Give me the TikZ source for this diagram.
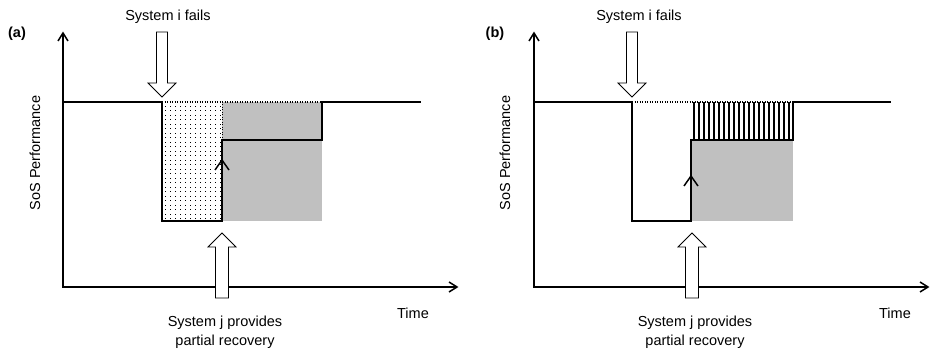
\documentclass[tikz,border=0pt]{standalone}
\usepackage{fontspec}
\setmainfont{Liberation Sans}
\usetikzlibrary{arrows.meta}
\definecolor{greyfill}{HTML}{C0C0C0}
\begin{document}
\begin{tikzpicture}[x=1pt,y=-1pt,
  txt/.style={inner sep=0pt,font=\fontsize{14.5}{19}\selectfont},
  axis/.style={line width=1.5pt},
  curve/.style={line width=1.5pt,line join=miter},
  chev/.style={line width=1.5pt,line join=miter},
  dotline/.style={line width=1.5pt,dash pattern=on 1.2pt off 1.3pt},
  hollow/.style={draw=black,fill=white,line width=0.8pt,line join=miter}]
\useasboundingbox (0,0) rectangle (930,350);

% ---------------- panel (a)
\node[txt,font=\fontsize{14.5}{19}\selectfont\bfseries] (la) at (17,34) {(a)};
\node[txt] (fa) at (168,17) {System i fails};
\node[txt,rotate=90] (ya) at (35,153) {SoS Performance};
\node[txt] (ta) at (413,313) {Time};
\node[txt,align=center] (ra) at (225,332) {System j provides\\partial recovery};

\fill[greyfill] (222,102) rectangle (322,221);
\foreach \x in {165,170,...,220}
  \foreach \y in {106,110.5,...,220}
    \fill (\x-0.45,\y-0.45) rectangle (\x+0.45,\y+0.45);
\draw[line width=1pt,dash pattern=on 1pt off 1.5pt] (222,102) -- (222,221);

\coordinate (oa) at (63,287);
\coordinate (ya1) at (63,33);
\coordinate (xa1) at (457,287);
\draw[axis] (ya1) -- (oa) -- (xa1);
\draw[chev] ([shift={(-5,8)}]ya1) -- (ya1) -- ([shift={(5,8)}]ya1);
\draw[chev] ([shift={(-8,-5)}]xa1) -- (xa1) -- ([shift={(-8,5)}]xa1);
\draw[dotline] (162,102) -- (322,102);
\draw[curve] (63,102) -- (162,102) -- (162,221) -- (222,221) -- (222,140) -- (322,140) -- (322,102) -- (421,102);
\coordinate (ca) at (222,160);
\draw[chev] ([shift={(-7,10)}]ca) -- (ca) -- ([shift={(7,10)}]ca);

\draw[hollow] (156.5,32) -- (167.5,32) -- (167.5,83) -- (176,83) -- (162,97) -- (148,83) -- (156.5,83) -- cycle;
\draw[hollow] (215.5,298) -- (228.5,298) -- (228.5,247) -- (236,247) -- (222,233) -- (208,247) -- (215.5,247) -- cycle;

% ---------------- panel (b)
\node[txt,font=\fontsize{14.5}{19}\selectfont\bfseries] (lb) at (495,34) {(b)};
\node[txt] (fb) at (639,17) {System i fails};
\node[txt,rotate=90] (yb) at (505,153) {SoS Performance};
\node[txt] (tb) at (895,313) {Time};
\node[txt,align=center] (rb) at (695,332) {System j provides\\partial recovery};

\fill[greyfill] (691,140) rectangle (793,221);
\foreach \x in {693.5,698.5,...,792}
  \draw[line width=2pt] (\x,102) -- (\x,140);

\coordinate (ob) at (534,287);
\coordinate (yb1) at (534,33);
\coordinate (xb1) at (928,287);
\draw[axis] (yb1) -- (ob) -- (xb1);
\draw[chev] ([shift={(-5,8)}]yb1) -- (yb1) -- ([shift={(5,8)}]yb1);
\draw[chev] ([shift={(-8,-5)}]xb1) -- (xb1) -- ([shift={(-8,5)}]xb1);
\draw[dotline] (632,102) -- (793,102);
\draw[curve] (534,102) -- (632,102) -- (632,221) -- (691,221) -- (691,140) -- (793,140) -- (793,102) -- (891,102);
\coordinate (cb) at (691,176);
\draw[chev] ([shift={(-7,10)}]cb) -- (cb) -- ([shift={(7,10)}]cb);

\draw[hollow] (626.5,32) -- (637.5,32) -- (637.5,83) -- (646,83) -- (632,97) -- (618,83) -- (626.5,83) -- cycle;
\draw[hollow] (685.5,298) -- (698.5,298) -- (698.5,247) -- (706,247) -- (692,233) -- (678,247) -- (685.5,247) -- cycle;
\end{tikzpicture}
\end{document}
